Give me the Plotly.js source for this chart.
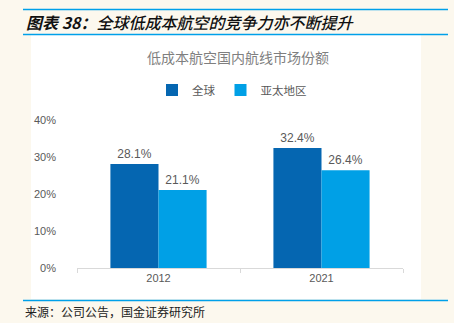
<!DOCTYPE html>
<html>
<head>
<meta charset="utf-8">
<script src="https://cdn.plot.ly/plotly-3.0.1.min.js"></script>
<style>
html,body{margin:0;padding:0;background:#fcf8ee;}
#chart{width:454px;height:323px;}
</style>
</head>
<body>
<div id="chart"></div>
<script>
const categories = ['2012', '2021'];
const globalShare = [28.1, 32.4];
const apacShare = [21.1, 26.4];
const seriesNames = ['全球', '亚太地区'];
const yTickVals = [0, 10, 20, 30, 40];
const yTickText = ['0%', '10%', '20%', '30%', '40%'];

const FONT = '"Liberation Sans", Arial, "Noto Sans CJK SC", sans-serif';
const CJK = '"Noto Sans CJK SC", sans-serif';

const traces = [
  {
    type: 'bar', name: seriesNames[0], x: categories, y: globalShare,
    marker: {color: '#0566b1'},
    text: globalShare.map(v => v.toFixed(1) + '%'),
    textposition: 'outside', cliponaxis: false,
    textfont: {family: FONT, size: 12, color: '#595959'}
  },
  {
    type: 'bar', name: seriesNames[1], x: categories, y: apacShare,
    marker: {color: '#00a0e6'},
    text: apacShare.map(v => v.toFixed(1) + '%'),
    textposition: 'outside', cliponaxis: false,
    textfont: {family: FONT, size: 12, color: '#595959'}
  }
];

const py = p => (268 - p) / 148;   // pixel y -> paper y
const px = p => (p - 77) / 326;    // pixel x -> paper x

const layout = {
  width: 454, height: 323,
  margin: {l: 77, r: 51, t: 120, b: 55, pad: 0},
  paper_bgcolor: '#fcf8ee',
  plot_bgcolor: 'rgba(0,0,0,0)',
  barmode: 'group',
  bargap: 0.41,
  bargroupgap: 0,
  showlegend: true,
  legend: {
    orientation: 'h', x: px(232), xanchor: 'center', y: py(90), yanchor: 'middle',
    font: {family: CJK, size: 11.5, color: '#595959'},
    itemwidth: 30, tracegroupgap: 0, bgcolor: 'rgba(0,0,0,0)'
  },
  xaxis: {
    type: 'category',
    showline: true, linecolor: '#d9d9d9', linewidth: 1,
    ticks: 'outside', tickson: 'boundaries', ticklen: 4, tickcolor: '#d9d9d9',
    tickfont: {family: FONT, size: 11, color: '#595959'},
    showgrid: false, zeroline: false, fixedrange: true
  },
  yaxis: {
    range: [0, 40], tickvals: yTickVals, ticktext: yTickText,
    showgrid: false, zeroline: false, showline: false,
    tickfont: {family: FONT, size: 11, color: '#595959'},
    ticklabelstandoff: 20, fixedrange: true
  },
  shapes: [
    {type: 'rect', xref: 'paper', yref: 'paper', x0: px(31), x1: px(421), y0: py(299), y1: py(35),
     fillcolor: '#ffffff', line: {width: 0}, layer: 'below'},
    {type: 'line', xref: 'paper', yref: 'paper', x0: px(23), x1: px(448), y0: py(9.5), y1: py(9.5),
     line: {color: '#00a0e9', width: 1.5}},
    {type: 'line', xref: 'paper', yref: 'paper', x0: px(23), x1: px(448), y0: py(34.5), y1: py(34.5),
     line: {color: '#00a0e9', width: 1.5}},
    {type: 'line', xref: 'paper', yref: 'paper', x0: px(23), x1: px(448), y0: py(300.5), y1: py(300.5),
     line: {color: '#00a0e9', width: 1.5}}
  ],
  annotations: [
    {xref: 'paper', yref: 'paper', x: px(24), y: py(21.5), xanchor: 'left', yanchor: 'middle',
     text: '<i><b>图表 38：</b>全球低成本航空的竞争力亦不断提升</i>', showarrow: false,
     font: {family: CJK, size: 16, color: '#111111', weight: 500}},
    {xref: 'paper', yref: 'paper', x: px(238), y: py(57), xanchor: 'center', yanchor: 'middle',
     text: '低成本航空国内航线市场份额', showarrow: false,
     font: {family: CJK, size: 14, color: '#7f7f7f'}},
    {xref: 'paper', yref: 'paper', x: px(23), y: py(311), xanchor: 'left', yanchor: 'middle',
     text: '来源：公司公告，国金证券研究所', showarrow: false,
     font: {family: CJK, size: 12, color: '#222222'}}
  ]
};

Plotly.newPlot('chart', traces, layout, {displayModeBar: false, staticPlot: true});
</script>
</body>
</html>
